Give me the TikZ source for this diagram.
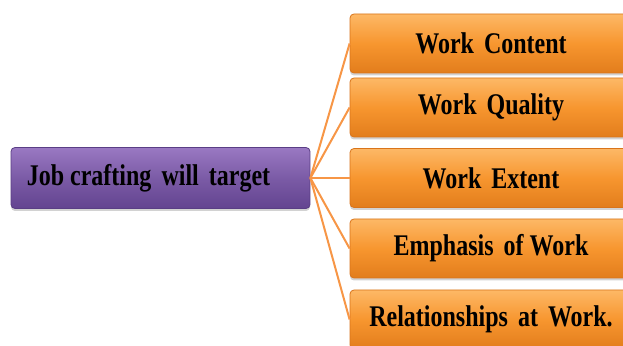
\documentclass[tikz,border=0pt]{standalone}
\usepackage{fontspec}
\usepackage{graphicx}
\setmainfont{Liberation Serif}
\usetikzlibrary{shadows}
\definecolor{orTop}{HTML}{FDB866}
\definecolor{orMid}{HTML}{F7962F}
\definecolor{orBot}{HTML}{E27D1C}
\definecolor{orEdge}{HTML}{D9741A}
\definecolor{puTop}{HTML}{9A78C2}
\definecolor{puMid}{HTML}{7B5BA6}
\definecolor{puBot}{HTML}{634490}
\definecolor{puEdge}{HTML}{5A3E85}
\definecolor{lineC}{HTML}{F79646}
\newcommand{\tallt}[1]{\scalebox{1}[1.25]{#1}}
\tikzset{
  obox/.style={draw=orEdge, line width=0.8pt, rounded corners=4pt,
    top color=orTop, bottom color=orBot, middle color=orMid,
    minimum width=282pt, minimum height=59pt, inner sep=0pt,
    font=\fontsize{24}{26}\selectfont\bfseries,
    drop shadow={shadow xshift=0pt, shadow yshift=-2.5pt, opacity=0.35, fill=gray}},
  pbox/.style={draw=puEdge, line width=0.8pt, rounded corners=4pt,
    top color=puTop, bottom color=puBot, middle color=puMid,
    minimum width=299pt, minimum height=61pt, inner sep=0pt,
    font=\fontsize{24}{26}\selectfont\bfseries,
    drop shadow={shadow xshift=0pt, shadow yshift=-2.5pt, opacity=0.35, fill=gray}},
  conn/.style={draw=lineC, line width=2pt}
}
\begin{document}
\begin{tikzpicture}[x=1pt,y=1pt]
\clip (0,0) rectangle (623,345);
\fill[white] (0,0) rectangle (623,345);
\node[pbox] (job) at (160.5,167) {\hspace*{-24pt}\tallt{Job crafting\, will\, target}};
\node[obox] (b1) at (491,301.5) {\tallt{Work\, Content}};
\node[obox] (b2) at (491,237.5) {\tallt{Work\, Quality}};
\node[obox] (b3) at (491,167) {\tallt{Work\, Extent}};
\node[obox] (b4) at (491,96.5) {\tallt{Emphasis\, of Work}};
\node[obox] (b5) at (491,25.5) {\tallt{Relationships\, at\, Work.}};
\draw[conn] (job.east) -- (b1.west);
\draw[conn] (job.east) -- (b2.west);
\draw[conn] (job.east) -- (b3.west);
\draw[conn] (job.east) -- (b4.west);
\draw[conn] (job.east) -- (b5.west);
\end{tikzpicture}
\end{document}
